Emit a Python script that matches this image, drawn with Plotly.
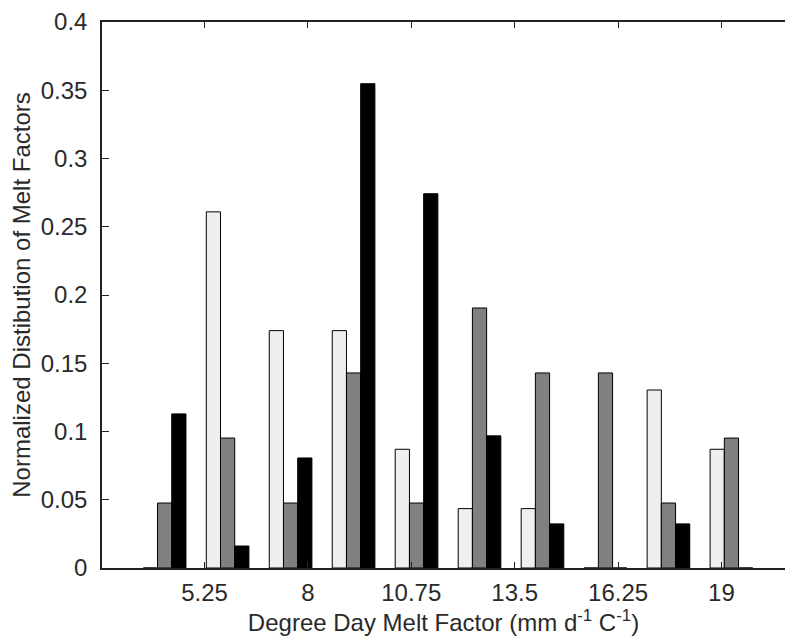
import plotly.graph_objects as go

# Bin centres (degree day melt factor) and normalized distributions
bin_centers = [4.19, 5.865, 7.54, 9.215, 10.89, 12.565, 14.24, 15.915, 17.59, 19.265]
light_vals = [0.0, 0.2609, 0.1739, 0.1739, 0.0870, 0.0435, 0.0435, 0.0, 0.1304, 0.0870]
gray_vals = [0.0476, 0.0952, 0.0476, 0.1429, 0.0476, 0.1905, 0.1429, 0.1429, 0.0476, 0.0952]
black_vals = [0.1129, 0.0161, 0.0806, 0.3548, 0.2742, 0.0968, 0.0323, 0.0, 0.0323, 0.0]

tick_vals = [5.25, 8, 10.75, 13.5, 16.25, 19]
tick_text = ["5.25", "8", "10.75", "13.5", "16.25", "19"]

FONT = "Liberation Sans, Arial, Helvetica, sans-serif"
TXT = "#2a2a2a"

fig = go.Figure()
for name, vals, col in [("A", light_vals, "#efefef"),
                        ("B", gray_vals, "#808080"),
                        ("C", black_vals, "#000000")]:
    fig.add_trace(go.Bar(x=bin_centers, y=vals, name=name,
                         marker=dict(color=col, line=dict(color="#000000", width=1))))

fig.update_layout(
    width=785, height=640,
    margin=dict(l=102, r=0, t=22, b=72),
    paper_bgcolor="white", plot_bgcolor="white",
    barmode="group", bargap=0.323, bargroupgap=0,
    showlegend=False,
    font=dict(family=FONT, size=24, color=TXT),
)
fig.update_xaxes(
    range=[2.524, 20.69],
    tickmode="array", tickvals=tick_vals, ticktext=tick_text,
    ticks="inside", ticklen=6, tickcolor="#222222", tickwidth=1,
    showline=True, linecolor="#222222", linewidth=1.5, mirror="ticks",
    showgrid=False, zeroline=False,
    tickfont=dict(size=24, color=TXT),
    ticklabelstandoff=2,
    title=dict(text="Degree Day Melt Factor (mm d<sup>-1</sup> C<sup>-1</sup>)",
               font=dict(size=24, color=TXT), standoff=6),
)
fig.update_yaxes(
    range=[0, 0.4], dtick=0.05, tick0=0,
    ticks="inside", ticklen=7, tickcolor="#222222", tickwidth=1,
    showline=True, linecolor="#222222", linewidth=1.5,
    showgrid=False, zeroline=False,
    tickfont=dict(size=24, color=TXT),
    ticklabelstandoff=8,
    title=dict(text="Normalized Distibution of Melt Factors", font=dict(size=24, color=TXT), standoff=3),
)

fig.write_html("out.html")
